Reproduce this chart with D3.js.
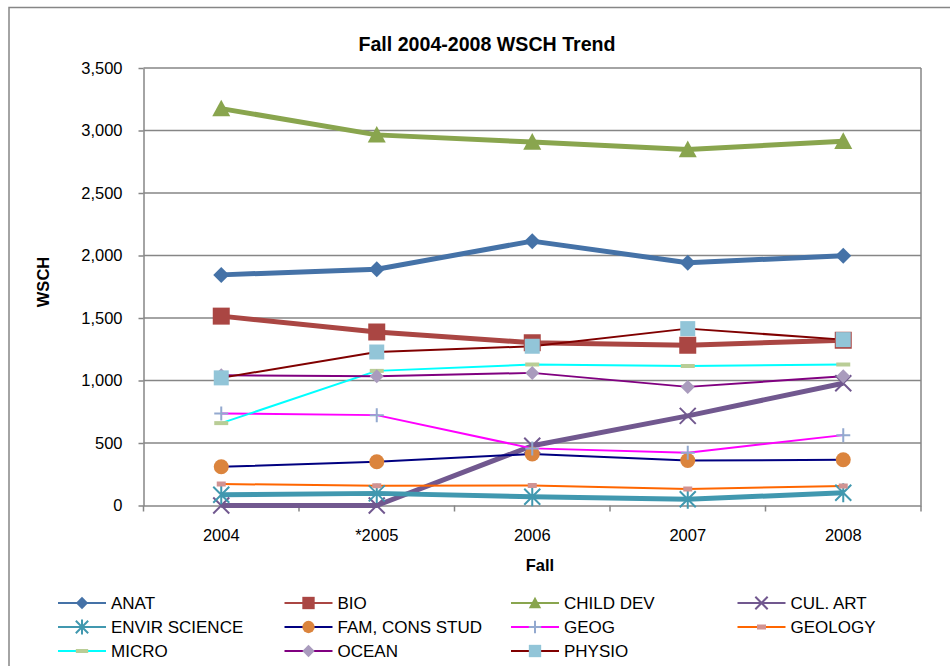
<!DOCTYPE html>
<html>
<head>
<meta charset="utf-8">
<title>Fall 2004-2008 WSCH Trend</title>
<script src="https://d3js.org/d3.v7.min.js"></script>
<style>
  body { margin: 0; background: #fff; }
  text { font-family: "Liberation Sans", Arial, sans-serif; fill: #000; }
</style>
</head>
<body>
<script>
// data
var years = ["2004", "*2005", "2006", "2007", "2008"];
var anat         = [1845, 1890, 2115, 1942, 1998];
var bio          = [1515, 1388, 1302, 1282, 1322];
var childDev     = [3175, 2965, 2908, 2848, 2914];
var culArt       = [0, 0, 478, 717, 978];
var envirScience = [86, 97, 70, 50, 102];
var famConsStud  = [310, 350, 412, 360, 366];
var geog         = [736, 723, 457, 422, 563];
var geology      = [172, 158, 160, 132, 156];
var micro        = [659, 1077, 1128, 1116, 1128];
var ocean        = [1042, 1034, 1061, 949, 1034];
var physio       = [1021, 1228, 1274, 1415, 1327];
var yTicks = [0, 500, 1000, 1500, 2000, 2500, 3000, 3500];

var names  = ["ANAT", "BIO", "CHILD DEV", "CUL. ART", "ENVIR SCIENCE", "FAM, CONS STUD",
              "GEOG", "GEOLOGY", "MICRO", "OCEAN", "PHYSIO"];
var values = [anat, bio, childDev, culArt, envirScience, famConsStud, geog, geology, micro, ocean, physio];

// look of each series
var lineColor   = ["#4572A7", "#AA4643", "#89A54E", "#71588F", "#4198AF", "#000080",
                   "#FF00FF", "#FF6600", "#00FFFF", "#800080", "#800000"];
var markColor   = ["#4572A7", "#AA4643", "#89A54E", "#71588F", "#4198AF", "#DB843D",
                   "#93A9CF", "#D19392", "#B9CD96", "#A99BBD", "#92C5D8"];
var markType    = ["diamond", "square", "triangle", "x", "star", "circle",
                   "plus", "smallbar", "bar", "diamond", "square"];
var markSize    = [8, 8.5, 9, 8, 8, 7.5, 7, 4.5, 7, 7, 7.5];
var lineWidth   = [5, 5, 5, 5, 5, 2, 2, 2, 2, 2, 2];

var W = 950, H = 666;
var pLeft = 143.5, pRight = 921, pTop = 68, pBottom = 505.5;
var grey = "#868686";
var font = "'Liberation Sans', Arial, sans-serif";

var svg = d3.select("body").append("svg")
  .attr("width", W).attr("height", H);

// outer chart border
svg.append("rect")
  .attr("x", 9).attr("y", 7.5)
  .attr("width", W).attr("height", H)
  .attr("fill", "none").attr("stroke", grey).attr("stroke-width", 1.5);

var x = d3.scaleBand().domain(years).range([pLeft, pRight]).padding(0);
var y = d3.scaleLinear().domain([0, 3500]).range([pBottom, pTop]);
function cx(i) { return x(years[i]) + x.bandwidth() / 2; }

// gridlines
svg.append("g").selectAll("line")
  .data(yTicks.filter(function(d){ return d > 0; }))
  .enter().append("line")
  .attr("x1", pLeft).attr("x2", pRight)
  .attr("y1", function(d){ return y(d); })
  .attr("y2", function(d){ return y(d); })
  .attr("stroke", grey).attr("stroke-width", 1.5);

// plot area right border
svg.append("line")
  .attr("x1", pRight).attr("x2", pRight).attr("y1", pTop).attr("y2", pBottom)
  .attr("stroke", grey).attr("stroke-width", 1.5);

// y axis
var yAxis = svg.append("g")
  .attr("transform", "translate(" + pLeft + ",0)")
  .call(d3.axisLeft(y).tickValues(yTicks).tickFormat(d3.format(",")).tickSize(5).tickSizeOuter(0).tickPadding(16));
yAxis.select(".domain").attr("stroke", grey).attr("stroke-width", 1.5);
yAxis.selectAll(".tick line").attr("stroke", grey).attr("stroke-width", 1.5);
yAxis.selectAll("text").attr("font-size", 16.5).attr("fill", "#000").attr("font-family", font);

// x axis
var xAxis = svg.append("g")
  .attr("transform", "translate(0," + pBottom + ")")
  .call(d3.axisBottom(x).tickSize(0).tickSizeOuter(0).tickPadding(24));
xAxis.select(".domain").attr("stroke", grey).attr("stroke-width", 1.5);
xAxis.selectAll("text").attr("font-size", 16.5).attr("fill", "#000").attr("font-family", font);
// tick marks sit between categories
var bounds = years.map(function(d){ return x(d); }).concat([pRight]);
xAxis.selectAll(".bound").data(bounds).enter().append("line")
  .attr("class", "bound")
  .attr("x1", function(d){ return d; }).attr("x2", function(d){ return d; })
  .attr("y1", 0).attr("y2", 6)
  .attr("stroke", grey).attr("stroke-width", 1.5);

// titles
svg.append("text").attr("x", 487).attr("y", 51)
  .attr("text-anchor", "middle").attr("font-size", 19.6).attr("font-weight", "bold")
  .text("Fall 2004-2008 WSCH Trend");
svg.append("text").attr("x", 540).attr("y", 571)
  .attr("text-anchor", "middle").attr("font-size", 16.5).attr("font-weight", "bold")
  .text("Fall");
svg.append("text")
  .attr("transform", "translate(49,282) rotate(-90)")
  .attr("text-anchor", "middle").attr("font-size", 16.5).attr("font-weight", "bold")
  .text("WSCH");

// marker shapes
function marker(type, s) {
  switch (type) {
    case "diamond": return "M0," + (-s) + "L" + s + ",0L0," + s + "L" + (-s) + ",0Z";
    case "square": return "M" + (-s) + "," + (-s) + "h" + 2*s + "v" + 2*s + "h" + (-2*s) + "Z";
    case "triangle": return "M0," + (-s) + "L" + s + "," + (s*0.85) + "L" + (-s) + "," + (s*0.85) + "Z";
    case "circle": return "M" + (-s) + ",0A" + s + "," + s + " 0 1,0 " + s + ",0A" + s + "," + s + " 0 1,0 " + (-s) + ",0Z";
    case "bar": return "M" + (-s) + ",-2h" + 2*s + "v4h" + (-2*s) + "Z";
    case "smallbar": return "M" + (-s) + ",-2.5h" + 2*s + "v5h" + (-2*s) + "Z";
    case "x": return "M" + (-s) + "," + (-s) + "L" + s + "," + s + "M" + s + "," + (-s) + "L" + (-s) + "," + s;
    case "plus": return "M" + (-s) + ",0H" + s + "M0," + (-s) + "V" + s;
    case "star": return "M" + (-s) + "," + (-s) + "L" + s + "," + s + "M" + s + "," + (-s) + "L" + (-s) + "," + s + "M0," + (-s*1.2) + "V" + (s*1.2);
  }
}
function isStroke(type) { return type === "x" || type === "plus" || type === "star"; }
function drawMarker(g, type, color, s) {
  var p = g.append("path").attr("d", marker(type, s));
  if (isStroke(type)) p.attr("fill", "none").attr("stroke", color).attr("stroke-width", 2);
  else p.attr("fill", color);
}

var line = d3.line()
  .x(function(d, i){ return cx(i); })
  .y(function(d){ return y(d); });

// lines first
svg.append("g").selectAll("path")
  .data(values).enter().append("path")
  .attr("d", line)
  .attr("fill", "none")
  .attr("stroke", function(d, k){ return lineColor[k]; })
  .attr("stroke-width", function(d, k){ return lineWidth[k]; })
  .attr("stroke-linejoin", "round");

// then markers
var marks = svg.append("g");
values.forEach(function(vals, k) {
  vals.forEach(function(v, i) {
    var g = marks.append("g").attr("transform", "translate(" + cx(i) + "," + y(v) + ")");
    drawMarker(g, markType[k], markColor[k], markSize[k]);
  });
});

// legend, 4 columns
var legend = svg.append("g");
names.forEach(function(n, k) {
  var col = k % 4, row = Math.floor(k / 4);
  var lx = 58 + col * 226.5, ly = 603 + row * 24;
  var g = legend.append("g").attr("transform", "translate(" + lx + "," + ly + ")");
  g.append("line").attr("x1", 0).attr("x2", 48).attr("y1", 0).attr("y2", 0)
    .attr("stroke", lineColor[k]).attr("stroke-width", 2);
  var mg = g.append("g").attr("transform", "translate(24,0)");
  drawMarker(mg, markType[k], markColor[k], Math.min(markSize[k], 6.5) * (markType[k] === "smallbar" ? 1 : 0.95));
  g.append("text").attr("x", 53).attr("y", 6).attr("font-size", 17).text(n);
});
</script>
</body>
</html>
